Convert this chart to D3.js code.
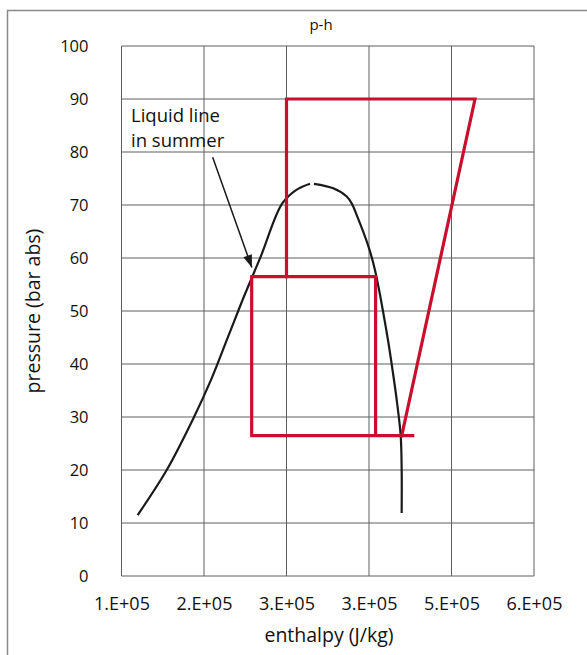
<!DOCTYPE html>
<html>
<head>
<meta charset="utf-8">
<script src="https://cdn.jsdelivr.net/npm/d3@7"></script>
<style>
  html, body { margin: 0; padding: 0; background: #fff; }
  svg { display: block; font-family: "Open Sans", "Noto Sans", sans-serif; }
</style>
</head>
<body>
<svg id="chart" width="587" height="655"></svg>
<script>
// ---- data ----
const xTickValues = [100000, 200000, 300000, 400000, 500000, 600000];
const xTickLabels = ["1.E+05", "2.E+05", "3.E+05", "3.E+05", "5.E+05", "6.E+05"];
const yTickValues = [0, 10, 20, 30, 40, 50, 60, 70, 80, 90, 100];

// saturated liquid line [enthalpy J/kg, pressure bar abs]
const liquidLine = [
  [119600, 11.5], [154800, 20.0], [187900, 30.0], [208500, 37.0],
  [229100, 45.1], [249700, 53.2], [269100, 60.4], [294500, 70.2],
  [311500, 72.8], [328500, 74.0]
];
// saturated vapour line
const vapourLine = [
  [333300, 74.0], [356700, 73.15], [373000, 71.6], [379000, 70.3],
  [385100, 68.1], [399100, 62.3], [407300, 57.7], [422400, 45.1],
  [428500, 38.9], [433600, 33.2], [438400, 26.5], [439600, 20.0], [439600, 11.9]
];
// summer cycle (high pressure)
const cycleHigh = [
  [439700, 26.5], [528500, 90.0], [300000, 90.0], [300000, 56.5]
];
// winter cycle (lower pressure)
const cycleLow = [
  [453000, 26.5], [257800, 26.5], [257800, 56.5], [408000, 56.5], [408000, 26.5]
];
// annotation: arrow from text to liquid line
const arrowFrom = [210500, 79.0];
const arrowTo = [258000, 58.2];

// ---- layout ----
const svg = d3.select("#chart");
const plot = { left: 121.5, right: 534, top: 46, bottom: 576 };

const x = d3.scaleLinear().domain([100000, 600000]).range([plot.left, plot.right]);
const y = d3.scaleLinear().domain([0, 100]).range([plot.bottom, plot.top]);

// outer frame
svg.append("rect")
  .attr("x", 7.5).attr("y", 10.5)
  .attr("width", 600).attr("height", 660)
  .attr("fill", "none").attr("stroke", "#8a8a8a").attr("stroke-width", 1.5);

// grid
const grid = svg.append("g");
grid.selectAll("line.v").data(xTickValues).enter().append("line")
  .attr("x1", d => x(d)).attr("x2", d => x(d))
  .attr("y1", plot.top).attr("y2", plot.bottom)
  .attr("stroke", "#5e5e5e").attr("stroke-width", 1);
grid.selectAll("line.h").data(yTickValues).enter().append("line")
  .attr("y1", d => y(d)).attr("y2", d => y(d))
  .attr("x1", plot.left).attr("x2", plot.right)
  .attr("stroke", "#5e5e5e").attr("stroke-width", 1);

// axes (labels only)
const xAxis = d3.axisBottom(x).tickValues(xTickValues)
  .tickFormat((d, i) => xTickLabels[i]).tickSize(0).tickPadding(21);
svg.append("g").attr("transform", `translate(0,${plot.bottom})`).call(xAxis)
  .call(g => g.select(".domain").remove())
  .call(g => g.selectAll("text").attr("font-size", 18).attr("fill", "#111")
    .attr("font-family", "'Open Sans', sans-serif"));

const yAxis = d3.axisLeft(y).tickValues(yTickValues).tickSize(0).tickPadding(33);
svg.append("g").attr("transform", `translate(${plot.left},0)`).call(yAxis)
  .call(g => g.select(".domain").remove())
  .call(g => g.selectAll("text").attr("font-size", 16.5).attr("fill", "#111")
    .attr("font-family", "'Open Sans', sans-serif"));

// curves
const line = d3.line().x(d => x(d[0])).y(d => y(d[1])).curve(d3.curveCatmullRom.alpha(0.5));
const poly = d3.line().x(d => x(d[0])).y(d => y(d[1]));

svg.append("path").datum(liquidLine).attr("d", line)
  .attr("fill", "none").attr("stroke", "#1a1a1a").attr("stroke-width", 2.2);
svg.append("path").datum(vapourLine).attr("d", line)
  .attr("fill", "none").attr("stroke", "#1a1a1a").attr("stroke-width", 2.2);

[cycleLow, cycleHigh].forEach(c => {
  svg.append("path").datum(c).attr("d", poly)
    .attr("fill", "none").attr("stroke", "#c8102e").attr("stroke-width", 3.2)
    .attr("stroke-linejoin", "miter").attr("stroke-linecap", "square");
});

// annotation
svg.append("defs").append("marker")
  .attr("id", "arrowhead").attr("viewBox", "0 0 14 10")
  .attr("refX", 14).attr("refY", 5)
  .attr("markerWidth", 14).attr("markerHeight", 9)
  .attr("markerUnits", "userSpaceOnUse")
  .attr("orient", "auto")
  .append("path").attr("d", "M0,0 L14,5 L0,10 Z").attr("fill", "#1a1a1a");

svg.append("line")
  .attr("x1", x(arrowFrom[0])).attr("y1", y(arrowFrom[1]))
  .attr("x2", x(arrowTo[0])).attr("y2", y(arrowTo[1]))
  .attr("stroke", "#1a1a1a").attr("stroke-width", 1.5)
  .attr("marker-end", "url(#arrowhead)");

const note = svg.append("text").attr("font-size", 18.5).attr("fill", "#111");
note.append("tspan").attr("x", 131).attr("y", 122).text("Liquid line");
note.append("tspan").attr("x", 131).attr("y", 147).text("in summer");

// titles
svg.append("text").attr("x", 321).attr("y", 30).attr("text-anchor", "middle")
  .attr("font-size", 15).attr("fill", "#111").text("p-h");
svg.append("text").attr("x", 329).attr("y", 642).attr("text-anchor", "middle")
  .attr("font-size", 19.5).attr("fill", "#111").text("enthalpy (J/kg)");
svg.append("text")
  .attr("transform", `translate(40,311) rotate(-90)`)
  .attr("text-anchor", "middle")
  .attr("font-size", 19.5).attr("fill", "#111").text("pressure (bar abs)");
</script>
</body>
</html>
